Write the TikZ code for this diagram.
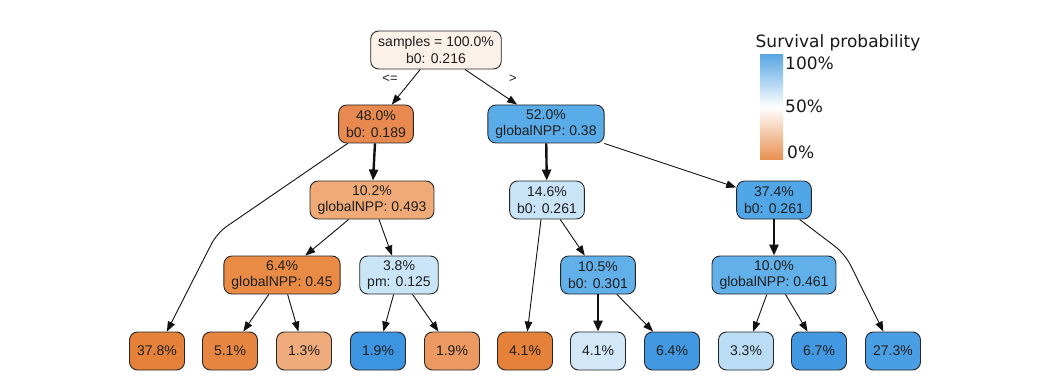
\documentclass[tikz,border=0pt]{standalone}
\usepackage{fontspec}
\setmainfont{Liberation Sans}
\newfontfamily\legendfont{DejaVu Sans}
\usetikzlibrary{arrows.meta}
\newcommand\tnfont{\fontsize{14}{16.5}\selectfont}
\definecolor{edgec}{HTML}{111111}
\definecolor{cRoot}{HTML}{FCF1E9}
\definecolor{cA}{HTML}{E88A4F}
\definecolor{cB}{HTML}{5AACE8}
\definecolor{cC}{HTML}{F0AA78}
\definecolor{cD}{HTML}{C9E3F7}
\definecolor{cE}{HTML}{50A6E6}
\definecolor{cF}{HTML}{E98A45}
\definecolor{cG}{HTML}{CBE5F8}
\definecolor{cH}{HTML}{62B0E9}
\definecolor{cI}{HTML}{62B0E9}
\definecolor{lA}{HTML}{E58139}
\definecolor{lB}{HTML}{E68640}
\definecolor{lC}{HTML}{EFAB7C}
\definecolor{lD}{HTML}{3D94E0}
\definecolor{lE}{HTML}{EC9A62}
\definecolor{lF}{HTML}{E58139}
\definecolor{lG}{HTML}{D2E8F9}
\definecolor{lH}{HTML}{4299E2}
\definecolor{lI}{HTML}{BBDCF5}
\definecolor{lJ}{HTML}{4299E2}
\definecolor{lK}{HTML}{4A9FE4}
\definecolor{barTop}{HTML}{5AA8E4}
\definecolor{barBot}{HTML}{E88F4F}
\tikzset{
  tn/.style={draw=black!85, line width=0.9pt, rounded corners=8pt, align=center,
    minimum height=38pt, minimum width=55pt, inner xsep=7.5pt, inner ysep=2pt,
    font=\tnfont, text=black!88},
  thinedge/.style={draw=edgec, line width=0.9pt, -{Triangle[length=10pt,width=7.5pt]}},
  thickedge/.style={draw=edgec, line width=2.4pt, -{Triangle[length=11pt,width=9pt]}},
  elabel/.style={font=\fontsize{13}{15}\selectfont, text=black!88},
  legendtxt/.style={font=\legendfont\fontsize{17}{20}\selectfont, text=black!90, inner sep=0pt}
}
\begin{document}
\begin{tikzpicture}[x=1pt,y=-1pt]
\useasboundingbox[fill=white] (0,0) rectangle (1039,385);
% internal nodes
\node[tn, fill=cRoot] (root) at (436,50) {samples = 100.0\%\\b0: 0.216};
\node[tn, fill=cA] (n48) at (376,124) {48.0\%\\b0: 0.189};
\node[tn, fill=cB] (n52) at (546,124) {52.0\%\\globalNPP: 0.38};
\node[tn, fill=cC] (n102) at (372,200) {10.2\%\\globalNPP: 0.493};
\node[tn, fill=cD] (n146) at (547,200) {14.6\%\\b0: 0.261};
\node[tn, fill=cE] (n374) at (774,200) {37.4\%\\b0: 0.261};
\node[tn, fill=cF] (n64) at (282,275) {6.4\%\\globalNPP: 0.45};
\node[tn, fill=cG] (n38) at (399,275) {3.8\%\\pm: 0.125};
\node[tn, fill=cH] (n105) at (598,275) {10.5\%\\b0: 0.301};
\node[tn, fill=cI] (n100) at (774,275) {10.0\%\\globalNPP: 0.461};
% leaves
\node[tn, fill=lA] (l1) at (157,351) {37.8\%};
\node[tn, fill=lB] (l2) at (230,351) {5.1\%};
\node[tn, fill=lC] (l3) at (304,351) {1.3\%};
\node[tn, fill=lD] (l4) at (378,351) {1.9\%};
\node[tn, fill=lE] (l5) at (452,351) {1.9\%};
\node[tn, fill=lF] (l6) at (525,351) {4.1\%};
\node[tn, fill=lG] (l7) at (598,351) {4.1\%};
\node[tn, fill=lH] (l8) at (672,351) {6.4\%};
\node[tn, fill=lI] (l9) at (746,351) {3.3\%};
\node[tn, fill=lJ] (l10) at (819,351) {6.7\%};
\node[tn, fill=lK] (l11) at (893,351) {27.3\%};
% edge labels
\node[elabel] (le) at (390,79) {<=};
\node[elabel] (gt) at (513,79) {>};
% waypoints
\coordinate (w1) at (217,233);
\coordinate (w2) at (845,254);
% edges
\draw[thinedge] (root) -- (n48);
\draw[thinedge] (root) -- (n52);
\draw[thickedge] (n48) -- (n102);
\draw[thinedge, rounded corners=12pt] (n48) -- (w1) -- (l1);
\draw[thickedge] (n52) -- (n146);
\draw[thinedge] (n52) -- (n374);
\draw[thinedge] (n102) -- (n64);
\draw[thinedge] (n102) -- (n38);
\draw[thinedge] (n146.south) ++(-6,0) coordinate (s146) (s146) -- (l6);
\draw[thinedge] (n146) -- (n105);
\draw[thickedge] (n374) -- (n100);
\draw[thinedge, rounded corners=12pt] (n374) -- (w2) -- (l11);
\draw[thinedge] (n64) -- (l2);
\draw[thinedge] (n64) -- (l3);
\draw[thinedge] (n38) -- (l4);
\draw[thinedge] (n38) -- (l5);
\draw[thickedge] (n105) -- (l7);
\draw[thinedge] (n105) -- (l8);
\draw[thinedge] (n100) -- (l9);
\draw[thinedge] (n100) -- (l10);
% legend
\node[legendtxt] (ltitle) at (838,43) {Survival probability};
\shade[top color=barTop, bottom color=barBot, middle color=white] (760,55) rectangle (783,160);
\node[legendtxt, anchor=west] (l100) at (785,63) {100\%};
\node[legendtxt, anchor=west] (l50) at (785,106) {50\%};
\node[legendtxt, anchor=west] (l0) at (787,152) {0\%};
\end{tikzpicture}
\end{document}
